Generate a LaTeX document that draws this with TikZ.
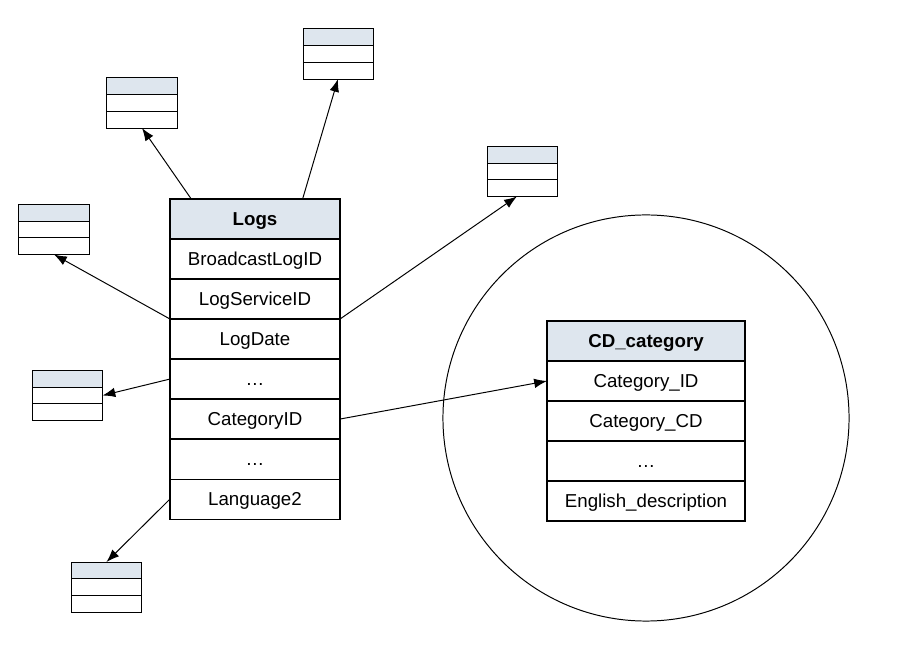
\documentclass[tikz,border=0pt]{standalone}
\usepackage{fontspec}
\setmainfont{Liberation Sans}
\usetikzlibrary{positioning,calc,arrows.meta}
\definecolor{headgray}{RGB}{222,230,238}

\tikzset{
  field/.style={rectangle, draw=black, line width=0.8pt, minimum width=4.25cm, minimum height=1cm, inner sep=0pt, outer sep=0pt, text height=9.5pt, text depth=0pt, text centered},
  header/.style={field, fill=headgray, font=\fontsize{13.3}{16}\selectfont\bfseries},
  cdfield/.style={field, minimum width=4.95cm},
  cdheader/.style={header, minimum width=4.95cm},
  mini/.style={rectangle, draw=black, line width=0.7pt, minimum width=1.75cm, minimum height=1.25cm, inner sep=0pt, outer sep=0pt,
    path picture={
      \fill[headgray] (path picture bounding box.north west) rectangle ($(path picture bounding box.north east)!1/3!(path picture bounding box.south east)$);
      \draw[line width=0.7pt] ($(path picture bounding box.north west)!1/3!(path picture bounding box.south west)$) -- ($(path picture bounding box.north east)!1/3!(path picture bounding box.south east)$);
      \draw[line width=0.7pt] ($(path picture bounding box.north west)!2/3!(path picture bounding box.south west)$) -- ($(path picture bounding box.north east)!2/3!(path picture bounding box.south east)$);
    }},
  link/.style={-{Latex[length=3.2mm,width=2.4mm]}, line width=0.7pt}
}

\begin{document}
\begin{tikzpicture}[x=0.025cm, y=-0.025cm, font=\fontsize{13.3}{16}\selectfont]
    \useasboundingbox (0,0) rectangle (916,648);

    % scope circle
    \node (zone) [circle, draw=black, line width=0.7pt, minimum size=10.15cm] at (646,418) {};

    % main table
    \node (logs) [header] at (255,219) {Logs};
    \node (f1) [field, below=0pt of logs] {BroadcastLogID};
    \node (f2) [field, below=0pt of f1] {LogServiceID};
    \node (f3) [field, below=0pt of f2] {LogDate};
    \node (f4) [field, below=0pt of f3] {\dots};
    \node (f5) [field, below=0pt of f4] {CategoryID};
    \node (f6) [field, below=0pt of f5] {\dots};
    \node (f7) [field, below=0pt of f6] {Language2};

    % lookup table
    \node (cd) [cdheader] at (646,341) {CD\_category};
    \node (cd1) [cdfield, below=0pt of cd] {Category\_ID};
    \node (cd2) [cdfield, below=0pt of cd1] {Category\_CD};
    \node (cd3) [cdfield, below=0pt of cd2] {\dots};
    \node (cd4) [cdfield, below=0pt of cd3] {English\_description};

    % small tables
    \node (t1) [mini] at (142,103) {};
    \node (t2) [mini] at (54,229.5) {};
    \node (t3) [mini] at (338,54) {};
    \node (t4) [mini] at (522.5,171.5) {};
    \node (t5) [mini] at (67.5,395.5) {};
    \node (t6) [mini] at (106.5,587) {};

    \draw [link] ($(logs.north west)!0.125!(logs.north east)$) -- (t1.south);
    \draw [link] ($(logs.north west)!0.78!(logs.north east)$) -- (t3.south);
    \draw [link] (f2.south east) -- ($(t4.south west)!0.42!(t4.south east)$);
    \draw [link] (f2.south west) -- (t2.south);
    \draw [link] (f4.west) -- (t5.east);
    \draw [link] (f7.west) -- (t6.north);
    \draw [link] (f5.east) -- (cd1.west);
\end{tikzpicture}
\end{document}
